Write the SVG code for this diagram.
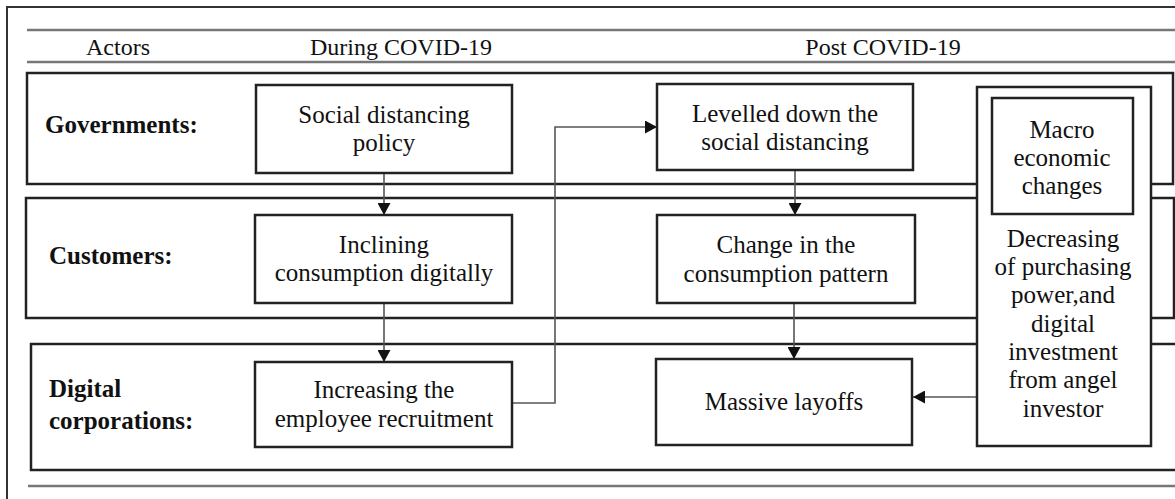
<svg xmlns="http://www.w3.org/2000/svg" width="1175" height="499" viewBox="0 0 1175 499">
  <defs>
    <marker id="arrow" markerUnits="userSpaceOnUse" markerWidth="13" markerHeight="13" refX="12" refY="6.5" orient="auto">
      <path d="M0,0 L12,6.5 L0,13 Z" fill="#111"/>
    </marker>
    <style>
      .frame { fill: none; stroke: #333; stroke-width: 2; }
      .rule { stroke: #777; stroke-width: 2.5; }
      .row { fill: none; stroke: #222; stroke-width: 2.5; }
      .box { fill: #fff; stroke: #222; stroke-width: 2.5; }
      .wire { fill: none; stroke: #555; stroke-width: 1.6; }
      text { font-family: "Liberation Serif", "Times New Roman", serif; fill: #111; }
      .head { font-size: 24px; text-anchor: middle; }
      .actor { font-size: 25px; font-weight: bold; }
      .label { font-size: 25px; text-anchor: middle; }
    </style>
  </defs>

  <rect width="1175" height="499" fill="#fff"/>

  <!-- outer frame (continues past the right and bottom edges) -->
  <rect class="frame" x="7" y="7" width="1190" height="510"/>

  <!-- table header -->
  <g id="header">
    <line class="rule" x1="27" y1="30" x2="1175" y2="30"/>
    <line class="rule" x1="27" y1="62" x2="1175" y2="62"/>
    <text class="head" x="118" y="55">Actors</text>
    <text class="head" x="401" y="55">During COVID-19</text>
    <text class="head" x="883" y="55">Post COVID-19</text>
  </g>

  <!-- actor rows -->
  <g id="row-governments">
    <rect class="row" x="27" y="73" width="1146" height="111"/>
    <text class="actor" x="45" y="133">Governments:</text>
  </g>
  <g id="row-customers">
    <rect class="row" x="26" y="198" width="1148" height="120"/>
    <text class="actor" x="49" y="264">Customers:</text>
  </g>
  <g id="row-digital">
    <rect class="row" x="31" y="344" width="1160" height="126"/>
    <text class="actor" x="49" y="397">Digital</text>
    <text class="actor" x="49" y="429">corporations:</text>
  </g>

  <line class="rule" x1="28" y1="486" x2="1175" y2="486"/>

  <!-- connectors -->
  <g id="connectors">
    <line class="wire" x1="384" y1="173" x2="384" y2="215" marker-end="url(#arrow)"/>
    <line class="wire" x1="384" y1="303" x2="384" y2="362" marker-end="url(#arrow)"/>
    <polyline class="wire" points="512,403 555,403 555,127 657,127" marker-end="url(#arrow)"/>
    <line class="wire" x1="795" y1="170" x2="795" y2="215" marker-end="url(#arrow)"/>
    <line class="wire" x1="794" y1="303" x2="794" y2="359" marker-end="url(#arrow)"/>
    <line class="wire" x1="977" y1="397" x2="913" y2="397" marker-end="url(#arrow)"/>
  </g>

  <!-- during COVID-19 -->
  <g id="social-distancing-policy">
    <rect class="box" x="256" y="85" width="256" height="88"/>
    <text class="label" x="384" y="123">Social distancing</text>
    <text class="label" x="384" y="151">policy</text>
  </g>
  <g id="inclining-consumption">
    <rect class="box" x="255" y="215" width="257" height="88"/>
    <text class="label" x="384" y="253">Inclining</text>
    <text class="label" x="384" y="281">consumption digitally</text>
  </g>
  <g id="increasing-recruitment">
    <rect class="box" x="255" y="362" width="257" height="85"/>
    <text class="label" x="384" y="398">Increasing the</text>
    <text class="label" x="384" y="427">employee recruitment</text>
  </g>

  <!-- post COVID-19 -->
  <g id="levelled-down">
    <rect class="box" x="657" y="84" width="256" height="86"/>
    <text class="label" x="785" y="122">Levelled down the</text>
    <text class="label" x="785" y="150">social distancing</text>
  </g>
  <g id="consumption-pattern">
    <rect class="box" x="657" y="215" width="258" height="88"/>
    <text class="label" x="786" y="253">Change in the</text>
    <text class="label" x="786" y="282">consumption pattern</text>
  </g>
  <g id="massive-layoffs">
    <rect class="box" x="656" y="359" width="256" height="86"/>
    <text class="label" x="784" y="410">Massive layoffs</text>
  </g>

  <!-- macro economic column spanning all rows -->
  <g id="macro-economic">
    <rect class="box" x="977" y="87" width="174" height="359"/>
    <rect class="box" x="992" y="98" width="141" height="116"/>
    <text class="label" x="1062" y="138">Macro</text>
    <text class="label" x="1062" y="166">economic</text>
    <text class="label" x="1062" y="194">changes</text>
    <text class="label" x="1063" y="247">Decreasing</text>
    <text class="label" x="1063" y="275">of purchasing</text>
    <text class="label" x="1063" y="303">power,and</text>
    <text class="label" x="1063" y="332">digital</text>
    <text class="label" x="1063" y="360">investment</text>
    <text class="label" x="1063" y="388">from angel</text>
    <text class="label" x="1063" y="417">investor</text>
  </g>
</svg>
